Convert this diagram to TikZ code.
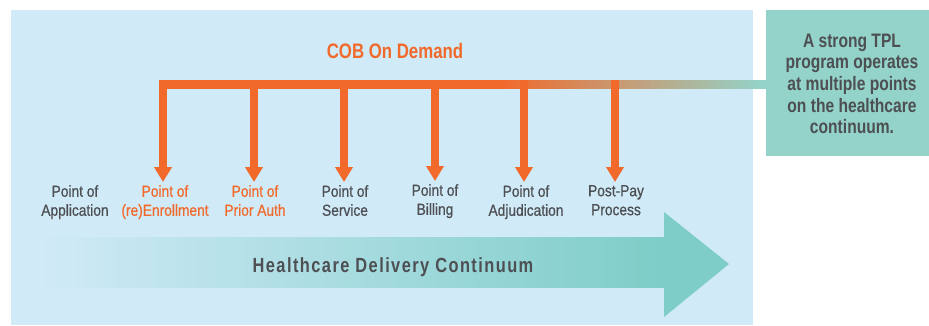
\documentclass[tikz,border=0pt]{standalone}
\usepackage{fontspec}
\setmainfont{Liberation Sans}[FakeStretch=0.86]
\newfontfamily\labelfont{Liberation Sans}[FakeStretch=0.86,FakeBold=0.6]
\newfontfamily\boldcond{Liberation Sans}[FakeStretch=0.8]
\newfontfamily\spacedfont{Liberation Sans}[FakeStretch=0.8,LetterSpace=7]
\usetikzlibrary{arrows.meta}
\definecolor{bgblue}{HTML}{D0EAF7}
\definecolor{tealbox}{HTML}{94D3C9}
\definecolor{arrowteal}{HTML}{7ECDC8}
\definecolor{cobor}{HTML}{F26A2B}
\definecolor{txtgray}{HTML}{4D4F53}
\begin{document}
\begin{tikzpicture}[x=1pt,y=-1pt,
 lbl/.style={align=center, inner sep=0pt, anchor=north, font=\labelfont\fontsize{16}{19}\selectfont, text=txtgray},
 hot/.style={text=cobor},
 drop/.style={draw=cobor, line width=8pt, -{Triangle[length=15pt,width=17pt]}, shorten >=3pt}
]
\useasboundingbox (0,0) rectangle (929,325);
% background panel
\fill[bgblue] (11,10) rectangle (753,325);
% right box
\node[fill=tealbox, minimum width=163pt, minimum height=146pt, anchor=north west, inner sep=0pt] (box) at (766,10) {};
\node[anchor=north, inner sep=0pt, align=center, font=\boldcond\bfseries\fontsize{19.5}{21.7}\selectfont, text=txtgray] (tpl) at (852,33.5)
 {A strong TPL\\program operates\\at multiple points\\on the healthcare\\continuum.};
% big arrow
\foreach \k in {0,...,62} {
  \pgfmathsetmacro{\p}{100*\k/62}
  \fill[arrowteal!\p!bgblue] ({35+10*\k},237) rectangle ({35+10*\k+10.6},288);
}
\fill[arrowteal] (664,212) -- (729,264) -- (664,317) -- cycle;
\node[font=\spacedfont\bfseries\fontsize{20.5}{24}\selectfont, text=txtgray, anchor=base] (hdc) at (393,272) {Healthcare Delivery Continuum};
% title
\node[font=\boldcond\bfseries\fontsize{21}{25}\selectfont, text=cobor, anchor=base] (cob) at (395,58) {COB On Demand};
% bar
\fill[cobor] (159,80) rectangle (501,89);
\foreach \k in {0,...,52} {
  \pgfmathsetmacro{\p}{100*\k/52}
  \fill[tealbox!\p!cobor] ({500+5*\k},80) rectangle ({500+5*\k+5.6},89);
}
\fill[tealbox] (760,80) rectangle (767,89);
% labels
\node[lbl] (l0) at (75,185) {Point of\\Application};
\node[lbl,hot] (l1) at (165,185) {Point of\\(re)Enrollment};
\node[lbl,hot] (l2) at (255,185) {Point of\\Prior Auth};
\node[lbl] (l3) at (345,185) {Point of\\Service};
\node[lbl] (l4) at (435,184) {Point of\\Billing};
\node[lbl] (l5) at (526,185) {Point of\\Adjudication};
\node[lbl] (l6) at (616,185) {Post-Pay\\Process};
% drop arrows
\coordinate (b1) at (163,80);
\coordinate (b2) at (254,80);
\coordinate (b3) at (344,80);
\coordinate (b4) at (435,80);
\coordinate (b5) at (524,80);
\coordinate (b6) at (615,80);
\foreach \i in {1,...,6} \draw[drop] (b\i) -- (b\i |- l\i.north);
\end{tikzpicture}
\end{document}
